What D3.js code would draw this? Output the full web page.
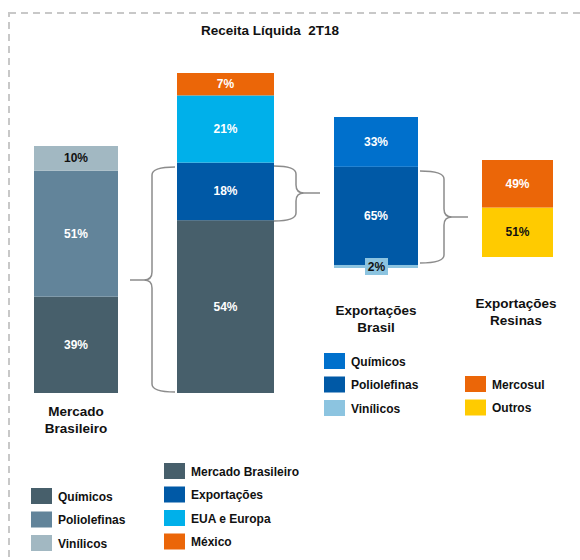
<!DOCTYPE html>
<html>
<head>
<meta charset="utf-8">
<script src="https://d3js.org/d3.v7.min.js"></script>
<style>
  body { margin: 0; background: #fff; }
  text { font-family: "Liberation Sans", Arial, sans-serif; font-weight: bold; }
</style>
</head>
<body>
<svg id="chart" width="580" height="560"></svg>
<script>
// ---- data ----
var title = "Receita Líquida  2T18";

var mercadoCats = ["Químicos", "Poliolefinas", "Vinílicos"];
var mercadoVals = [39, 51, 10];

var totalCats = ["Mercado Brasileiro", "Exportações", "EUA e Europa", "México"];
var totalVals = [54, 18, 21, 7];

var expCats = ["Vinílicos", "Poliolefinas", "Químicos"];
var expVals = [2, 65, 33];

var resinaCats = ["Outros", "Mercosul"];
var resinaVals = [51, 49];

var color = {
  "mercado": d3.scaleOrdinal().domain(mercadoCats).range(["#475f6b", "#62849a", "#a2b8c2"]),
  "total": d3.scaleOrdinal().domain(totalCats).range(["#475f6b", "#0059a6", "#00b0ea", "#eb6608"]),
  "exp": d3.scaleOrdinal().domain(expCats).range(["#8cc4e0", "#0059a6", "#0070cc"]),
  "resina": d3.scaleOrdinal().domain(resinaCats).range(["#ffcb00", "#eb6608"])
};

var svg = d3.select("#chart");

// dashed frame
svg.append("rect")
  .attr("x", 9).attr("y", 13)
  .attr("width", 620).attr("height", 600)
  .attr("fill", "none")
  .attr("stroke", "#c8c8c8")
  .attr("stroke-width", 2)
  .attr("stroke-dasharray", "7,5");

svg.append("text")
  .attr("x", 270).attr("y", 35)
  .attr("text-anchor", "middle")
  .style("font-size", "13.5px")
  .style("white-space", "pre")
  .attr("fill", "#111")
  .text(title);

// one stacked bar, its own 0-100 scale
function stack(key, cats, vals, x0, w, bottom, h, darkText) {
  var y = d3.scaleLinear().domain([0, 100]).range([bottom, bottom - h]);
  var cum = 0;
  var segs = vals.map(function(v, i) {
    var s = { cat: cats[i], v: v, a: cum, b: cum + v };
    cum += v;
    return s;
  });
  var g = svg.append("g");
  g.selectAll("rect").data(segs).enter().append("rect")
    .attr("x", x0).attr("width", w)
    .attr("y", function(d) { return y(d.b); })
    .attr("height", function(d) { return y(d.a) - y(d.b); })
    .attr("fill", function(d) { return color[key](d.cat); });
  g.selectAll("text").data(segs.filter(function(d) { return d.v > 3; })).enter().append("text")
    .attr("x", x0 + w / 2)
    .attr("y", function(d) { return (y(d.a) + y(d.b)) / 2 + 4; })
    .attr("text-anchor", "middle")
    .style("font-size", "12px")
    .attr("fill", function(d) { return darkText.indexOf(d.cat) >= 0 ? "#111" : "#fff"; })
    .text(function(d) { return d.v + "%"; });
  return { y: y, segs: segs };
}

stack("mercado", mercadoCats, mercadoVals, 34, 84, 393, 247, ["Vinílicos"]);
stack("total", totalCats, totalVals, 177, 97, 393, 320, []);
var ex = stack("exp", expCats, expVals, 334, 84, 268, 151, []);
stack("resina", resinaCats, resinaVals, 482, 71, 257, 97, ["Outros"]);

// small 2% tag on export bar
var small = ex.segs[0];
svg.append("rect")
  .attr("x", 365).attr("y", 258).attr("width", 23).attr("height", 17)
  .attr("fill", color.exp(small.cat));
svg.append("text")
  .attr("x", 376.5).attr("y", 271)
  .attr("text-anchor", "middle")
  .style("font-size", "12px")
  .attr("fill", "#111")
  .text(small.v + "%");

// bar names
function label(lines, x, y) {
  var t = svg.append("text").attr("x", x).attr("y", y)
    .attr("text-anchor", "middle").style("font-size", "13.5px").attr("fill", "#111");
  lines.forEach(function(l, i) {
    t.append("tspan").attr("x", x).attr("dy", i ? 17 : 0).text(l);
  });
}
label(["Mercado", "Brasileiro"], 76, 416);
label(["Exportações", "Brasil"], 376, 315);
label(["Exportações", "Resinas"], 516, 308);

// braces
function brace(xh, xv, xt, y1, y2, ym) {
  var r = 8, dir = xt < xv ? -1 : 1;
  var p = d3.path();
  p.moveTo(xh, y1);
  p.quadraticCurveTo(xv, y1, xv, y1 + r);
  p.lineTo(xv, ym - r);
  p.quadraticCurveTo(xv, ym, xv + dir * r, ym);
  p.lineTo(xt, ym);
  p.moveTo(xv + dir * r, ym);
  p.quadraticCurveTo(xv, ym, xv, ym + r);
  p.lineTo(xv, y2 - r);
  p.quadraticCurveTo(xv, y2, xh, y2);
  svg.append("path").attr("d", p.toString())
    .attr("fill", "none").attr("stroke", "#8c8c8c").attr("stroke-width", 1.5);
}
brace(175, 152, 130, 167, 392, 280);
brace(274, 296, 320, 166, 221, 193);
brace(420, 444, 468, 171, 263, 217);

// legends
function legend(items, key, x, y0) {
  var g = svg.append("g");
  var row = g.selectAll("g").data(items).enter().append("g")
    .attr("transform", function(d, i) { return "translate(" + x + "," + (y0 + i * 23.5) + ")"; });
  row.append("rect").attr("width", 21).attr("height", 16)
    .attr("fill", function(d) { return color[key](d); });
  row.append("text").attr("x", 27).attr("y", 12.5)
    .style("font-size", "12px").attr("fill", "#111")
    .text(function(d) { return d; });
}
legend(mercadoCats, "mercado", 31, 488);
legend(totalCats, "total", 164, 463);
legend(expCats.slice().reverse(), "exp", 324, 353);
legend(resinaCats.slice().reverse(), "resina", 465, 376);
</script>
</body>
</html>
